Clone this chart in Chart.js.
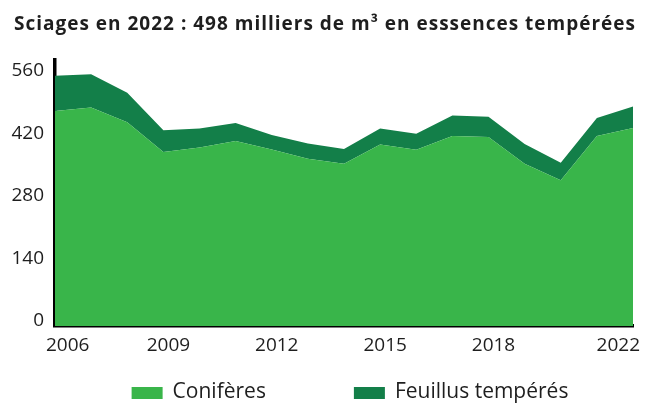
<!DOCTYPE html>
<html lang="fr">
<head>
<meta charset="utf-8">
<title>Sciages en essences tempérées</title>
<script src="https://cdn.jsdelivr.net/npm/chart.js@4/dist/chart.umd.min.js"></script>
<style>
  html, body { margin: 0; padding: 0; background: #fff; }
  #wrap { width: 646px; height: 405px; }
</style>
</head>
<body>
<div id="wrap"><canvas id="sciagesChart" width="646" height="405"></canvas></div>
<script>
const annees = ['2006', '2007', '2008', '2009', '2010', '2011', '2012', '2013', '2014',
  '2015', '2016', '2017', '2018', '2019', '2020', '2021', '2022'];
// milliers de m3
const coniferes = [481, 489, 456, 389, 399, 414, 395, 374, 363, 406, 394, 425, 423, 363, 326, 425, 443];
const feuillus = [79, 74, 66, 49, 43, 40, 32, 34, 33, 36, 36, 46, 45, 44, 39, 40, 48];
const ticksAnnees = ['2006', '2009', '2012', '2015', '2018', '2022'];
const ticksValeurs = [0, 140, 280, 420, 560];
const titre = 'Sciages en 2022 : 498 milliers de m³ en esssences tempérées';

const couleurTexte = '#1e1e1e';
const police = '"Open Sans", "DejaVu Sans", sans-serif';

// titre, années et légende dessinés à la main
const textesPlugin = {
  id: 'textes',
  afterDraw(chart) {
    const ctx = chart.ctx;
    const area = chart.chartArea;
    const x = chart.scales.x;
    ctx.save();
    ctx.fillStyle = couleurTexte;
    ctx.textBaseline = 'middle';

    ctx.font = 'bold 19px ' + police;
    ctx.textAlign = 'center';
    ctx.letterSpacing = '1px';
    ctx.fillText(titre, 325, 25);
    ctx.letterSpacing = '0px';

    ctx.font = '19px ' + police;
    ticksAnnees.forEach(a => {
      const w = ctx.measureText(a).width;
      let cx = x.getPixelForValue(annees.indexOf(a)) + 5;
      cx = Math.max(cx, 46 + w / 2);
      cx = Math.min(cx, 640 - w / 2);
      ctx.fillText(a, cx, 346);
    });

    // légende
    ctx.font = '21px ' + police;
    ctx.textAlign = 'left';
    const items = chart.data.datasets.map(d => ({
      label: d.label,
      couleur: d.backgroundColor,
      largeur: 31 + 10 + ctx.measureText(d.label).width
    }));
    const total = items.reduce((s, it) => s + it.largeur, 0) + 88 * (items.length - 1);
    let lx = (area.left + area.right) / 2 + 6 - total / 2;
    items.forEach(it => {
      ctx.fillStyle = it.couleur;
      ctx.fillRect(lx, 387, 31, 12);
      ctx.fillStyle = couleurTexte;
      ctx.fillText(it.label, lx + 41, 392);
      lx += it.largeur + 88;
    });
    ctx.restore();
  }
};

const ctx = document.getElementById('sciagesChart').getContext('2d');
new Chart(ctx, {
  type: 'line',
  data: {
    labels: annees,
    datasets: [
      {
        label: 'Conifères',
        data: coniferes,
        backgroundColor: '#39b54a',
        borderWidth: 0,
        pointRadius: 0,
        fill: 'origin'
      },
      {
        label: 'Feuillus tempérés',
        data: feuillus,
        backgroundColor: '#137f49',
        borderWidth: 0,
        pointRadius: 0,
        fill: '-1'
      }
    ]
  },
  options: {
    responsive: false,
    animation: false,
    devicePixelRatio: 1,
    layout: { padding: { top: 60, bottom: 79, left: 0, right: 13 } },
    elements: { line: { tension: 0 } },
    plugins: {
      legend: { display: false },
      title: { display: false },
      tooltip: { enabled: false }
    },
    scales: {
      x: {
        offset: false,
        grid: { display: false, drawTicks: false },
        border: { display: true, color: '#000', width: 3.5 },
        ticks: { display: false },
        afterFit: s => { s.height = 0; }
      },
      y: {
        stacked: true,
        min: 0,
        max: 595,
        grid: { display: false, drawTicks: false },
        border: { display: true, color: '#000', width: 3.5 },
        afterBuildTicks: s => { s.ticks = ticksValeurs.map(v => ({ value: v })); },
        afterFit: s => { s.width = 55; },
        ticks: {
          padding: 11,
          labelOffset: -5,
          color: couleurTexte,
          font: { family: police, size: 19 }
        }
      }
    }
  },
  plugins: [textesPlugin]
});
</script>
</body>
</html>
